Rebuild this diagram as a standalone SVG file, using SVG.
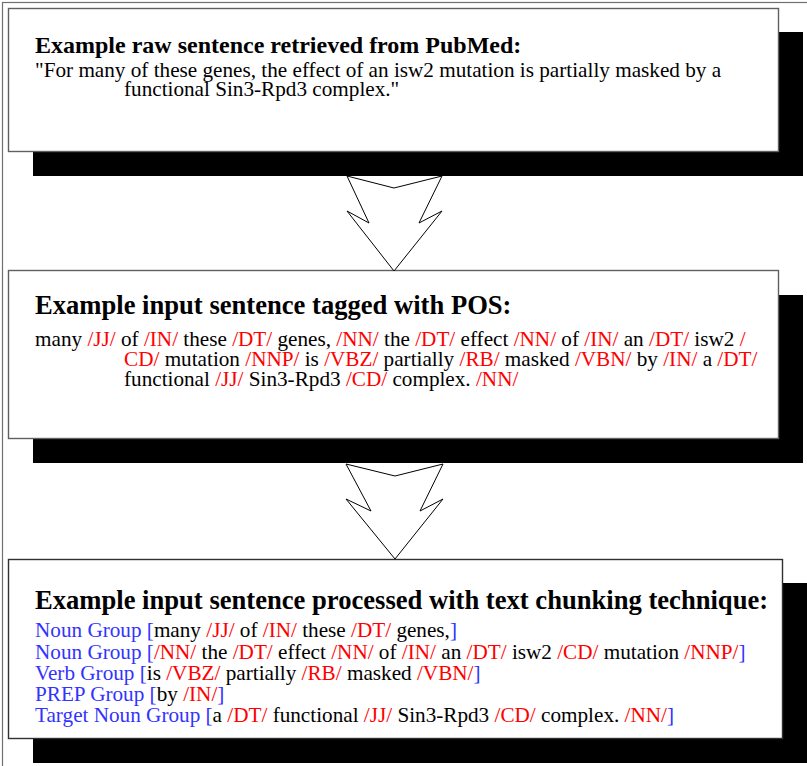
<svg xmlns="http://www.w3.org/2000/svg" width="807" height="766" viewBox="0 0 807 766">
  <style>
    .frame { fill: none; stroke: #707070; stroke-width: 1.2; }
    .box { fill: #ffffff; stroke: #606060; stroke-width: 1.4; }
    .shadow { fill: #000000; }
    .arrow { fill: #ffffff; stroke: #000000; stroke-width: 1; stroke-linejoin: miter; }
    .txt { font-family: "Liberation Serif", "Times New Roman", serif; fill: #000000; }
    .head { font-weight: bold; }
    .body { font-size: 21.2px; }
    .tag { fill: #ff0000; }
    .grp { fill: #3333ff; }
  </style>

  <rect class="frame" x="2.5" y="2.5" width="830" height="800"/>

  <!-- Step 1: raw sentence -->
  <g id="raw-sentence">
    <rect class="shadow" x="33" y="32" width="770" height="144"/>
    <rect class="box" x="8.5" y="8.5" width="770" height="143"/>
    <text class="txt head" font-size="24" x="35" y="53">Example raw sentence retrieved from PubMed:</text>
    <text class="txt body" x="35" y="77">"For many of these genes, the effect of an isw2 mutation is partially masked by a</text>
    <text class="txt body" x="124" y="96">functional Sin3-Rpd3 complex."</text>
  </g>

  <!-- Step 2: POS tagged sentence -->
  <g id="pos-tagged">
    <rect class="shadow" x="33" y="295" width="770" height="168"/>
    <rect class="box" x="8.5" y="270.5" width="770" height="168"/>
    <text class="txt head" font-size="26.6" x="35" y="314">Example input sentence tagged with POS:</text>
    <text class="txt body" x="35" y="346">many <tspan class="tag">/JJ/</tspan> of <tspan class="tag">/IN/</tspan> these <tspan class="tag">/DT/</tspan> genes, <tspan class="tag">/NN/</tspan> the <tspan class="tag">/DT/</tspan> effect <tspan class="tag">/NN/</tspan> of <tspan class="tag">/IN/</tspan> an <tspan class="tag">/DT/</tspan> isw2 <tspan class="tag">/</tspan></text>
    <text class="txt body" x="124" y="366"><tspan class="tag">CD/</tspan> mutation <tspan class="tag">/NNP/</tspan> is <tspan class="tag">/VBZ/</tspan> partially <tspan class="tag">/RB/</tspan> masked <tspan class="tag">/VBN/</tspan> by <tspan class="tag">/IN/</tspan> a <tspan class="tag">/DT/</tspan></text>
    <text class="txt body" x="124" y="386">functional <tspan class="tag">/JJ/</tspan> Sin3-Rpd3 <tspan class="tag">/CD/</tspan> complex. <tspan class="tag">/NN/</tspan></text>
  </g>

  <!-- Step 3: chunked sentence -->
  <g id="chunked">
    <rect class="shadow" x="33" y="583" width="774" height="180"/>
    <rect class="box" x="8.5" y="559.5" width="774" height="179" style="stroke:#303030"/>
    <text class="txt head" font-size="26.6" x="35" y="609">Example input sentence processed with text chunking technique:</text>
    <text class="txt body" x="35" y="637"><tspan class="grp">Noun Group [</tspan>many <tspan class="tag">/JJ/</tspan> of <tspan class="tag">/IN/</tspan> these <tspan class="tag">/DT/</tspan> genes,<tspan class="grp">]</tspan></text>
    <text class="txt body" x="35" y="659"><tspan class="grp">Noun Group [</tspan><tspan class="tag">/NN/</tspan> the <tspan class="tag">/DT/</tspan> effect <tspan class="tag">/NN/</tspan> of <tspan class="tag">/IN/</tspan> an <tspan class="tag">/DT/</tspan> isw2 <tspan class="tag">/CD/</tspan> mutation <tspan class="tag">/NNP/</tspan><tspan class="grp">]</tspan></text>
    <text class="txt body" x="35" y="680"><tspan class="grp">Verb Group [</tspan>is <tspan class="tag">/VBZ/</tspan> partially <tspan class="tag">/RB/</tspan> masked <tspan class="tag">/VBN/</tspan><tspan class="grp">]</tspan></text>
    <text class="txt body" x="35" y="701"><tspan class="grp">PREP Group [</tspan>by <tspan class="tag">/IN/</tspan><tspan class="grp">]</tspan></text>
    <text class="txt body" x="35" y="722"><tspan class="grp">Target Noun Group [</tspan>a <tspan class="tag">/DT/</tspan> functional <tspan class="tag">/JJ/</tspan> Sin3-Rpd3 <tspan class="tag">/CD/</tspan> complex. <tspan class="tag">/NN/</tspan><tspan class="grp">]</tspan></text>
  </g>

  <!-- Block arrows between the steps -->
  <g id="connectors">
    <polygon class="arrow" points="347,176 369,223 347,211 394,271 442,211 419,223 442,176 394,188"/>
    <polygon class="arrow" points="346,464 371,511 346,499 395,559 443,499 420,511 443,464 395,476"/>
  </g>
</svg>
